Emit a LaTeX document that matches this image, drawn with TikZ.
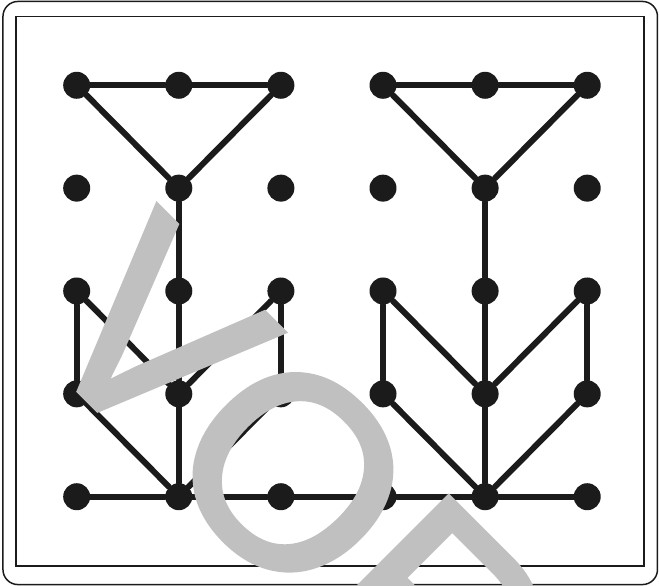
\documentclass[tikz,border=0pt]{standalone}
\usepackage{fontspec}
\newfontfamily\markfont[FakeBold=2]{Liberation Sans}
\usepackage{xcolor}
\definecolor{Ink}{RGB}{26,27,26}
\definecolor{Mark}{RGB}{192,192,192}
\tikzstyle{NodeDot}=[circle,fill=Ink,inner sep=0pt,minimum size=5.4mm]
\tikzstyle{EdgeLine}=[Ink,line width=3.4pt,line cap=round]
\tikzstyle{FrameLine}=[Ink,line width=0.85pt]
\tikzstyle{MarkText}=[text=Mark,inner sep=0pt,font=\markfont\fontsize{154}{154}\selectfont]
\begin{document}
\begin{tikzpicture}[x=2.042cm,y=2.057cm]
        \useasboundingbox(-0.751,0.829)rectangle(5.703,-4.868);
        \draw[FrameLine,rounded corners=3mm](-0.722,0.815)rectangle(5.688,-4.854);
        \draw[FrameLine](-0.595,0.667)rectangle(5.556,-4.674);
        % row 1
        \node[NodeDot](a1)at(0,0){};
        \node[NodeDot](b1)at(1,0){};
        \node[NodeDot](c1)at(2,0){};
        \node[NodeDot](d1)at(3,0){};
        \node[NodeDot](e1)at(4,0){};
        \node[NodeDot](f1)at(5,0){};
        % row 2
        \node[NodeDot](a2)at(0,-1){};
        \node[NodeDot](b2)at(1,-1){};
        \node[NodeDot](c2)at(2,-1){};
        \node[NodeDot](d2)at(3,-1){};
        \node[NodeDot](e2)at(4,-1){};
        \node[NodeDot](f2)at(5,-1){};
        % row 3
        \node[NodeDot](a3)at(0,-2){};
        \node[NodeDot](b3)at(1,-2){};
        \node[NodeDot](c3)at(2,-2){};
        \node[NodeDot](d3)at(3,-2){};
        \node[NodeDot](e3)at(4,-2){};
        \node[NodeDot](f3)at(5,-2){};
        % row 4
        \node[NodeDot](a4)at(0,-3){};
        \node[NodeDot](b4)at(1,-3){};
        \node[NodeDot](c4)at(2,-3){};
        \node[NodeDot](d4)at(3,-3){};
        \node[NodeDot](e4)at(4,-3){};
        \node[NodeDot](f4)at(5,-3){};
        % row 5
        \node[NodeDot](a5)at(0,-4){};
        \node[NodeDot](b5)at(1,-4){};
        \node[NodeDot](c5)at(2,-4){};
        \node[NodeDot](d5)at(3,-4){};
        \node[NodeDot](e5)at(4,-4){};
        \node[NodeDot](f5)at(5,-4){};
        % left figure
        \draw[EdgeLine](a1)--(b1);
        \draw[EdgeLine](b1)--(c1);
        \draw[EdgeLine](a1)--(b2);
        \draw[EdgeLine](c1)--(b2);
        \draw[EdgeLine](b2)--(b3);
        \draw[EdgeLine](b3)--(b4);
        \draw[EdgeLine](b4)--(b5);
        \draw[EdgeLine](a3)--(a4);
        \draw[EdgeLine](c3)--(c4);
        \draw[EdgeLine](a3)--(b4);
        \draw[EdgeLine](c3)--(b4);
        \draw[EdgeLine](a4)--(b5);
        \draw[EdgeLine](c4)--(b5);
        % right figure
        \draw[EdgeLine](d1)--(e1);
        \draw[EdgeLine](e1)--(f1);
        \draw[EdgeLine](d1)--(e2);
        \draw[EdgeLine](f1)--(e2);
        \draw[EdgeLine](e2)--(e3);
        \draw[EdgeLine](e3)--(e4);
        \draw[EdgeLine](e4)--(e5);
        \draw[EdgeLine](d3)--(d4);
        \draw[EdgeLine](f3)--(f4);
        \draw[EdgeLine](d3)--(e4);
        \draw[EdgeLine](f3)--(e4);
        \draw[EdgeLine](d4)--(e5);
        \draw[EdgeLine](f4)--(e5);
        % bottom row
        \draw[EdgeLine](a5)--(b5);
        \draw[EdgeLine](b5)--(c5);
        \draw[EdgeLine](c5)--(d5);
        \draw[EdgeLine](d5)--(e5);
        \draw[EdgeLine](e5)--(f5);
        % watermark
        \begin{scope}
        \clip(-0.751,0.829)rectangle(5.703,-4.868);
        \node[MarkText,rotate=-45,anchor=base west](mark)at(-0.510,-2.441){VOR};
        \end{scope}
    \end{tikzpicture}
\end{document}
